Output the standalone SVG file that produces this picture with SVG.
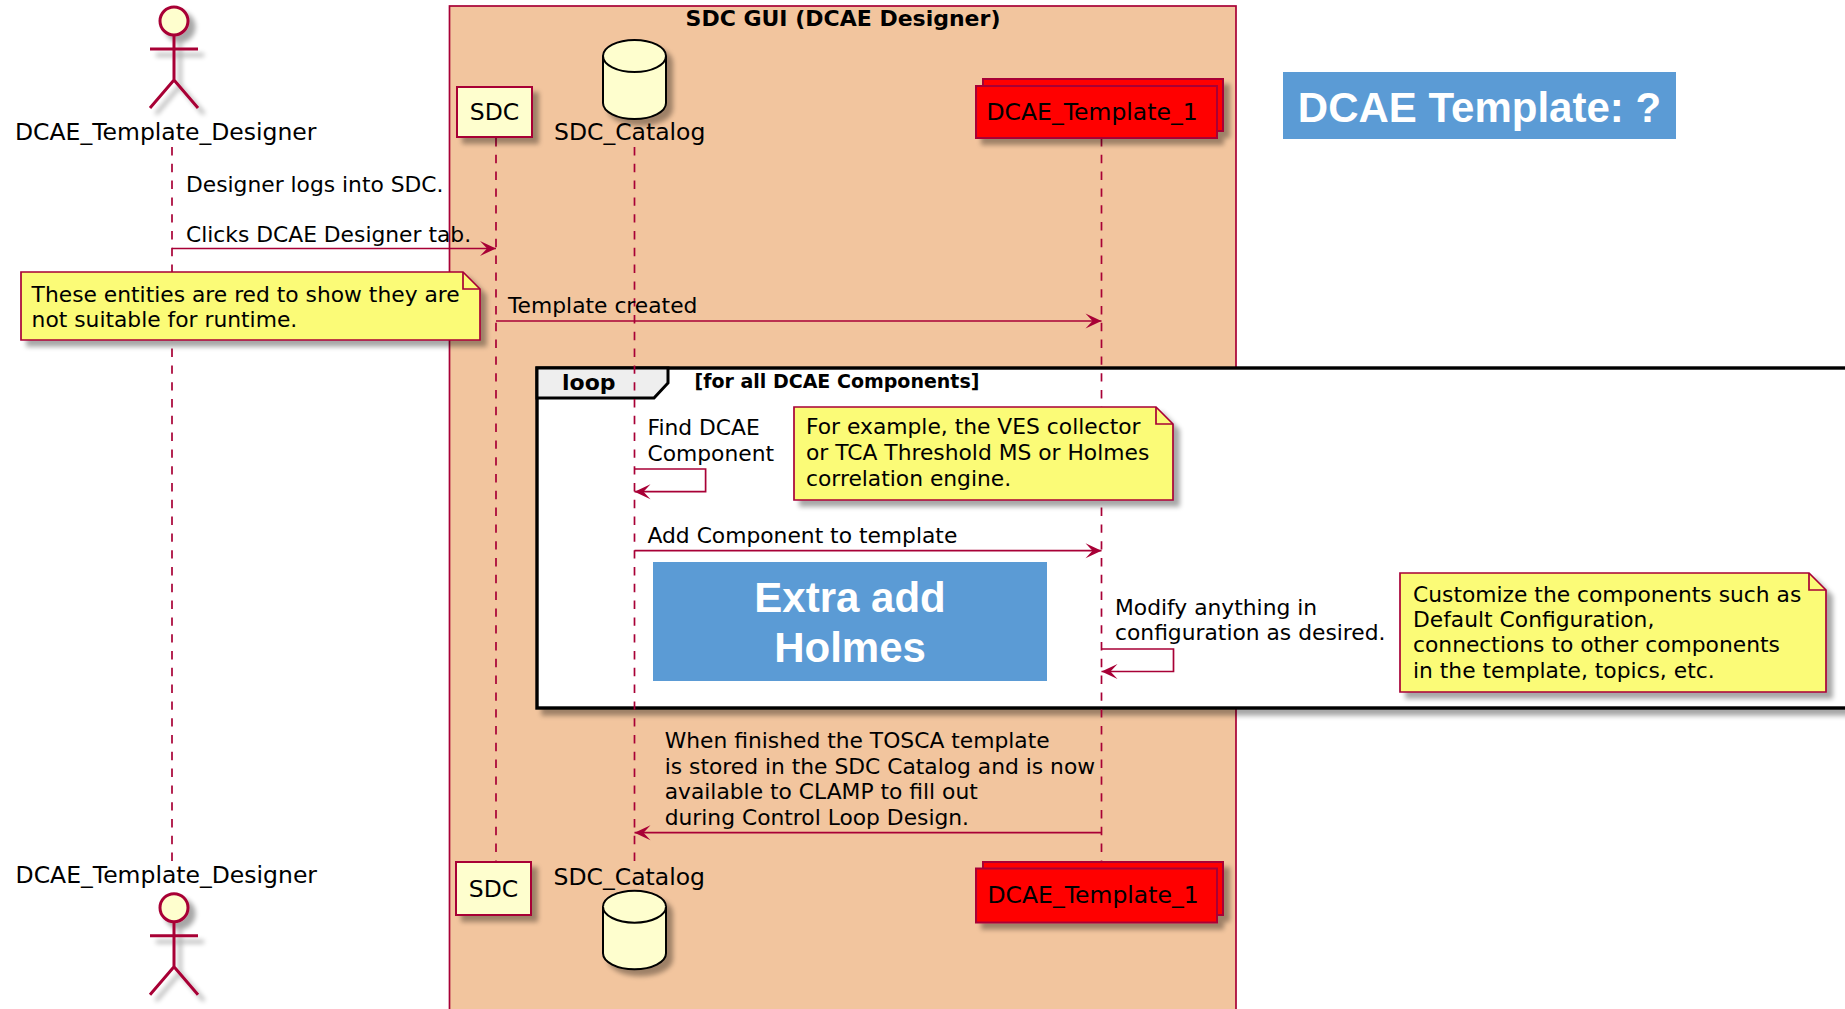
<svg xmlns="http://www.w3.org/2000/svg" width="1845" height="1009" viewBox="0 0 1845 1009">
<style>
.t{font-family:"DejaVu Sans",sans-serif;font-size:21.8px;fill:#000}
.p{font-family:"DejaVu Sans",sans-serif;font-size:23.5px;fill:#000}
.b{font-weight:bold}
.ll{stroke:#A80036;stroke-width:1.7;stroke-dasharray:8.4 8.4;fill:none}
.msg{stroke:#A80036;stroke-width:1.7;fill:none;marker-end:url(#ah)}
.note{fill:#FBFB77;stroke:#A80036;stroke-width:1.7}
.fold{fill:none;stroke:#A80036;stroke-width:1.7}
.part{fill:#FEFECE;stroke:#A80036;stroke-width:2}
.red{fill:#FF0000;stroke:#A80036;stroke-width:2}
.act{fill:#FEFECE;stroke:#A80036;stroke-width:3}
.db{fill:#FEFECE;stroke:#000;stroke-width:2}
.blue{fill:#5B9BD5}
.bt{font-family:"Liberation Sans",Arial,sans-serif;font-weight:bold;font-size:42px;fill:#fff}
</style>
<defs>
<filter id="sh" x="-20%" y="-20%" width="150%" height="160%">
<feGaussianBlur in="SourceAlpha" stdDeviation="2.5"/>
<feOffset dx="6" dy="6" result="o"/>
<feComponentTransfer><feFuncA type="linear" slope="0.35"/></feComponentTransfer>
<feMerge><feMergeNode/><feMergeNode in="SourceGraphic"/></feMerge>
</filter>
<marker id="ah" viewBox="0 0 18 16" refX="17" refY="8" markerWidth="18" markerHeight="16" markerUnits="userSpaceOnUse" orient="auto">
<path d="M1,0.5 L17,8 L1,15.5 L8,8 Z" fill="#A80036"/>
</marker>
</defs>
<rect width="1845" height="1009" fill="#fff"/>

<g id="box-sdc-gui">
<rect x="449.5" y="6" width="786.5" height="1010" fill="#F2C59E" stroke="#A80036" stroke-width="1.7"/>
<text class="t b" x="843" y="26" text-anchor="middle" style="font-size:22px">SDC GUI (DCAE Designer)</text>
</g>

<g id="loop">
<rect x="537" y="368" width="1400" height="340" fill="#fff" stroke="#000" stroke-width="3.4" filter="url(#sh)"/>
<path d="M537,368 H668 V383 L654,398 H537 Z" fill="#EEEEEE" stroke="#000" stroke-width="3"/>
<text class="t b" x="562" y="390" style="font-size:22px">loop</text>
<text class="t b" x="694.5" y="388" style="font-size:19px">[for all DCAE Components]</text>
</g>

<g id="lifelines">
<line class="ll" x1="172" y1="147" x2="172" y2="863"/>
<line class="ll" x1="496" y1="138" x2="496" y2="862"/>
<line class="ll" x1="634.5" y1="147" x2="634.5" y2="862"/>
<line class="ll" x1="1101.5" y1="138" x2="1101.5" y2="862"/>
</g>

<g id="connectors">
<text class="t" x="186" y="191.7">Designer logs into SDC.</text>
<text class="t" x="186" y="241.7">Clicks DCAE Designer tab.</text>
<line class="msg" x1="172" y1="248.5" x2="496" y2="248.5"/>
<text class="t" x="508" y="313.3">Template created</text>
<line class="msg" x1="496" y1="321" x2="1101.5" y2="321"/>
<text class="t" x="647.5" y="435">Find DCAE</text>
<text class="t" x="647.5" y="461">Component</text>
<path class="msg" d="M634.5,469 H705.6 V491.7 H634.5"/>
<text class="t" x="647.5" y="542.7">Add Component to template</text>
<line class="msg" x1="634.5" y1="550.7" x2="1101.5" y2="550.7"/>
<text class="t" x="1115" y="615">Modify anything in</text>
<text class="t" x="1115" y="640">configuration as desired.</text>
<path class="msg" d="M1101.5,649 H1173.5 V671.5 H1101.5"/>
<text class="t" x="664.7" y="748.3">When finished the TOSCA template</text>
<text class="t" x="664.7" y="774">is stored in the SDC Catalog and is now</text>
<text class="t" x="664.7" y="799.3">available to CLAMP to fill out</text>
<text class="t" x="664.7" y="825">during Control Loop Design.</text>
<line class="msg" x1="1101.5" y1="832.7" x2="634.5" y2="832.7"/>
</g>

<g id="note-red">
<path class="note" d="M21,272 H463 L480,289 V340 H21 Z" filter="url(#sh)"/>
<path class="fold" d="M463,272 V289 H480"/>
<text class="t" x="31.6" y="301.7">These entities are red to show they are</text>
<text class="t" x="31.6" y="326.7">not suitable for runtime.</text>
</g>

<g id="note-example">
<path class="note" d="M794,407 H1156 L1173,424 V500 H794 Z" filter="url(#sh)"/>
<path class="fold" d="M1156,407 V424 H1173"/>
<text class="t" x="806" y="434">For example, the VES collector</text>
<text class="t" x="806" y="460">or TCA Threshold MS or Holmes</text>
<text class="t" x="806" y="486">correlation engine.</text>
</g>

<g id="note-customize">
<path class="note" d="M1400,573 H1809 L1826,590 V692 H1400 Z" filter="url(#sh)"/>
<path class="fold" d="M1809,573 V590 H1826"/>
<text class="t" x="1413" y="601.7">Customize the components such as</text>
<text class="t" x="1413" y="627">Default Configuration,</text>
<text class="t" x="1413" y="652.3">connections to other components</text>
<text class="t" x="1413" y="678">in the template, topics, etc.</text>
</g>

<g id="label-extra">
<rect class="blue" x="653" y="562" width="394" height="119"/>
<text class="bt" x="850" y="611.7" text-anchor="middle">Extra add</text>
<text class="bt" x="850" y="661.7" text-anchor="middle">Holmes</text>
</g>

<g id="label-title">
<rect class="blue" x="1283" y="72" width="393" height="67"/>
<text class="bt" x="1479.5" y="122" text-anchor="middle">DCAE Template: ?</text>
</g>

<g id="actor-designer-top">
<g filter="url(#sh)">
<circle class="act" cx="174" cy="21" r="14"/>
<path class="act" fill="none" d="M174,35 V80 M150,49 H198 M174,80 L150,108 M174,80 L198,108"/>
</g>
<text class="p" x="15" y="140">DCAE_Template_Designer</text>
</g>

<g id="actor-designer-bottom">
<text class="p" x="15.6" y="883">DCAE_Template_Designer</text>
<g filter="url(#sh)">
<circle class="act" cx="174" cy="907.7" r="14"/>
<path class="act" fill="none" d="M174,921.7 V966.7 M150,935.7 H198 M174,966.7 L150,994.7 M174,966.7 L198,994.7"/>
</g>
</g>

<g id="sdc-top">
<rect class="part" x="457" y="87" width="75" height="50" filter="url(#sh)"/>
<text class="p" x="494.5" y="120" text-anchor="middle">SDC</text>
</g>
<g id="sdc-bottom">
<rect class="part" x="456" y="862" width="75" height="53" filter="url(#sh)"/>
<text class="p" x="493.5" y="896.7" text-anchor="middle">SDC</text>
</g>

<g id="catalog-top">
<g filter="url(#sh)">
<path class="db" d="M603,56 A31.5,16 0 0 1 666,56 L666,103 A31.5,16 0 0 1 603,103 Z"/>
<path class="db" fill="none" d="M603,56 A31.5,16 0 0 0 666,56"/>
</g>
<text class="p" x="554" y="140">SDC_Catalog</text>
</g>
<g id="catalog-bottom">
<text class="p" x="553.6" y="885">SDC_Catalog</text>
<g filter="url(#sh)">
<path class="db" d="M603,906.7 A31.5,16 0 0 1 666,906.7 L666,953.3 A31.5,16 0 0 1 603,953.3 Z"/>
<path class="db" fill="none" d="M603,906.7 A31.5,16 0 0 0 666,906.7"/>
</g>
</g>

<g id="dcae-template-1-top">
<g filter="url(#sh)">
<rect class="red" x="983" y="79" width="240" height="52"/>
<rect class="red" x="976" y="86" width="241" height="52"/>
</g>
<text class="p" x="986.5" y="120">DCAE_Template_1</text>
</g>
<g id="dcae-template-1-bottom">
<g filter="url(#sh)">
<rect class="red" x="983" y="862" width="240" height="53"/>
<rect class="red" x="976" y="868.5" width="241" height="54"/>
</g>
<text class="p" x="987.5" y="903.3">DCAE_Template_1</text>
</g>
</svg>
